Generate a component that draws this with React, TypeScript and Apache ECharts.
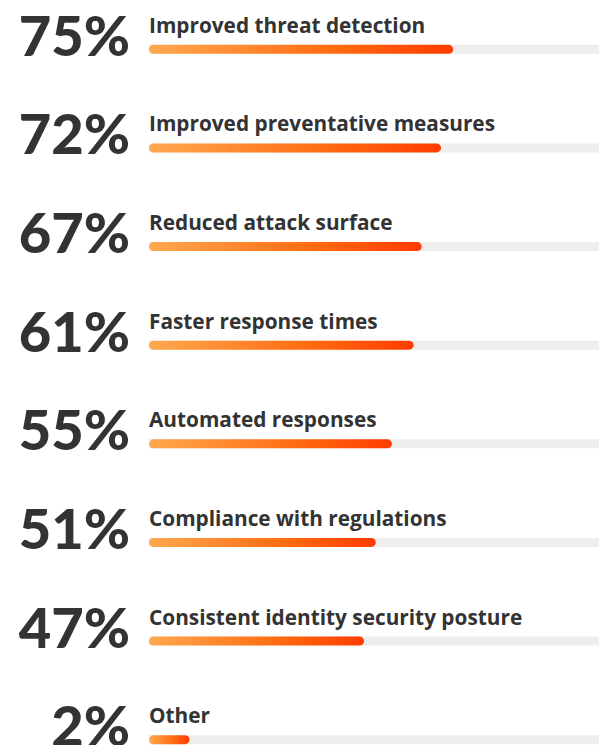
import React, { useEffect, useRef } from "react";
import * as echarts from "echarts";

const categories = [
  "Improved threat detection",
  "Improved preventative measures",
  "Reduced attack surface",
  "Faster response times",
  "Automated responses",
  "Compliance with regulations",
  "Consistent identity security posture",
  "Other",
];
const percentages = [75, 72, 67, 61, 55, 51, 47, 2];
// bar fill as share (%) of the grey track
const barFill = [67.6, 64.9, 60.6, 58.8, 54.0, 50.4, 47.8, 9.0];

export default function App() {
  const ref = useRef<HTMLDivElement>(null);
  useEffect(() => {
    if (!ref.current) return;
    const chart = echarts.init(ref.current, null, { renderer: "svg" });
    const gradient = new echarts.graphic.LinearGradient(0, 0, 1, 0, [
      { offset: 0, color: "#FFA84F" },
      { offset: 0.6, color: "#FF6C12" },
      { offset: 1, color: "#FF3C00" },
    ]);
    chart.setOption({
      animation: false,
      backgroundColor: "#ffffff",
      grid: { left: 149, top: 0, right: 0, bottom: 1, containLabel: false },
      xAxis: { type: "value", min: 0, max: 100, show: false },
      yAxis: {
        type: "category",
        data: categories,
        inverse: true,
        axisLine: { show: false },
        axisTick: { show: false },
        splitLine: { show: false },
        axisLabel: {
          formatter: (_v: string, i: number) => percentages[i] + "%",
          fontFamily: "Lato",
          fontWeight: 900,
          fontSize: 56,
          color: "#333333",
          align: "right",
          verticalAlign: "bottom",
          lineHeight: 30,
          margin: 19,
        },
      },
      series: [
        {
          type: "bar",
          data: barFill,
          barWidth: 9,
          showBackground: true,
          backgroundStyle: { color: "#eeeeee" },
          itemStyle: { color: gradient, borderRadius: 4.5 },
          label: {
            show: true,
            position: [0, -20],
            align: "left",
            verticalAlign: "middle",
            formatter: (p: any) => categories[p.dataIndex],
            fontFamily: "Open Sans",
            fontWeight: "bold",
            fontSize: 20.8,
            color: "#333333",
          },
        },
      ],
    });
    return () => chart.dispose();
  }, []);
  return (
    <div
      ref={ref}
      style={{ position: "fixed", left: 0, top: 0, width: 599, height: 790 }}
    />
  );
}
